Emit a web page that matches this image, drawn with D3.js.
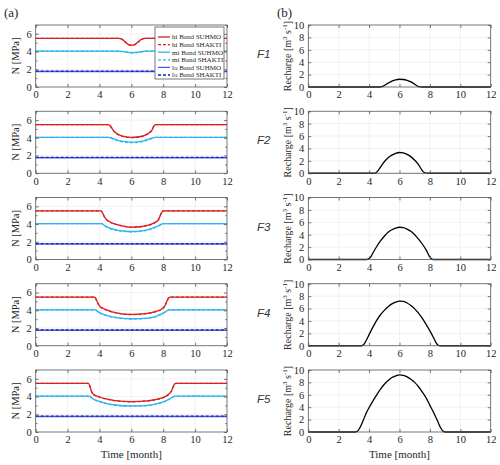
<!DOCTYPE html>
<html><head><meta charset="utf-8">
<script src="https://cdn.jsdelivr.net/npm/d3@7"></script>
<style>body{margin:0;background:#fff}svg{display:block}</style>
</head><body>
<svg id="chart" width="500" height="465"></svg>
<script>
// ---------- data ----------
const panelNames = ["F1","F2","F3","F4","F5"];
const xTicks = [0,2,4,6,8,10,12];
const nTicks = [0,2,4,6];
const nMinorTicks = [1,3,5,7];
const rTicks = [0,2,4,6,8,10];
const legendLabels = ["hi Band SUHMO","hi Band SHAKTI","mi Band SUHMO","mi Band SHAKTI","lo Band SUHMO","lo Band SHAKTI"];

// Effective pressure N [MPa], [time (month), value]
const hiSUHMO_F1 = [[0,5.5],[5.2,5.5],[5.4,5.42],[5.6,5.12],[5.8,4.82],[6.0,4.72],[6.2,4.78],[6.4,5.05],[6.6,5.35],[6.8,5.48],[7.0,5.5],[12,5.5]];
const hiSHAKTI_F1 = [[0,5.5],[5.2,5.5],[5.4,5.4],[5.6,5.1],[5.8,4.8],[6.0,4.7],[6.2,4.76],[6.4,5.03],[6.6,5.33],[6.8,5.47],[7.0,5.5],[12,5.5]];
const miSUHMO_F1 = [[0,4.05],[5.2,4.05],[5.5,4.0],[5.8,3.9],[6.0,3.87],[6.3,3.9],[6.6,3.98],[6.9,4.05],[12,4.05]];
const miSHAKTI_F1 = [[0,4.05],[5.2,4.05],[5.5,3.99],[5.8,3.88],[6.0,3.85],[6.3,3.88],[6.6,3.97],[6.9,4.05],[12,4.05]];

const hiSUHMO_F2 = [[0,5.5],[4.55,5.5],[4.7,5.3],[4.85,4.9],[5.0,4.6],[5.25,4.32],[5.5,4.17],[6.0,4.05],[6.5,4.12],[6.8,4.25],[7.1,4.55],[7.3,4.9],[7.4,5.3],[7.5,5.5],[12,5.5]];
const hiSHAKTI_F2 = [[0,5.5],[4.55,5.5],[4.7,5.28],[4.85,4.88],[5.0,4.58],[5.25,4.3],[5.5,4.15],[6.0,4.03],[6.5,4.1],[6.8,4.23],[7.1,4.53],[7.3,4.88],[7.4,5.28],[7.5,5.5],[12,5.5]];
const miSUHMO_F2 = [[0,4.05],[4.6,4.05],[4.8,3.95],[5.0,3.82],[5.25,3.68],[5.5,3.6],[6.0,3.52],[6.5,3.58],[6.8,3.68],[7.1,3.85],[7.3,3.96],[7.5,4.05],[12,4.05]];
const miSHAKTI_F2 = [[0,4.05],[4.6,4.05],[4.8,3.92],[5.0,3.77],[5.25,3.62],[5.5,3.53],[6.0,3.45],[6.5,3.51],[6.8,3.62],[7.1,3.8],[7.3,3.93],[7.5,4.05],[12,4.05]];

const hiSUHMO_F3 = [[0,5.5],[4.1,5.5],[4.2,5.25],[4.3,4.85],[4.45,4.5],[4.7,4.2],[5.0,4.0],[5.5,3.78],[6.0,3.65],[6.5,3.7],[7.0,3.85],[7.4,4.1],[7.7,4.5],[7.8,4.9],[7.9,5.3],[8.0,5.5],[12,5.5]];
const hiSHAKTI_F3 = [[0,5.5],[4.1,5.5],[4.2,5.23],[4.3,4.83],[4.45,4.48],[4.7,4.18],[5.0,3.98],[5.5,3.76],[6.0,3.63],[6.5,3.68],[7.0,3.83],[7.4,4.08],[7.7,4.48],[7.8,4.88],[7.9,5.28],[8.0,5.5],[12,5.5]];
const miSUHMO_F3 = [[0,4.05],[4.15,4.05],[4.3,3.85],[4.5,3.65],[5.0,3.35],[5.5,3.22],[6.0,3.16],[6.5,3.2],[7.0,3.35],[7.5,3.65],[7.8,3.9],[8.0,4.05],[12,4.05]];
const miSHAKTI_F3 = [[0,4.05],[4.15,4.05],[4.3,3.82],[4.5,3.61],[5.0,3.31],[5.5,3.18],[6.0,3.12],[6.5,3.16],[7.0,3.31],[7.5,3.61],[7.8,3.87],[8.0,4.05],[12,4.05]];

const hiSUHMO_F4 = [[0,5.5],[3.7,5.5],[3.8,5.2],[3.9,4.8],[4.0,4.5],[4.3,4.15],[4.6,3.95],[5.0,3.75],[6.0,3.54],[7.0,3.65],[7.5,3.85],[7.9,4.15],[8.1,4.5],[8.2,4.9],[8.3,5.3],[8.4,5.5],[12,5.5]];
const hiSHAKTI_F4 = [[0,5.5],[3.7,5.5],[3.8,5.18],[3.9,4.78],[4.0,4.48],[4.3,4.13],[4.6,3.93],[5.0,3.73],[6.0,3.52],[7.0,3.63],[7.5,3.83],[7.9,4.13],[8.1,4.48],[8.2,4.88],[8.3,5.28],[8.4,5.5],[12,5.5]];
const miSUHMO_F4 = [[0,4.05],[3.75,4.05],[3.9,3.85],[4.1,3.65],[4.5,3.4],[5.0,3.2],[6.0,3.05],[7.0,3.12],[7.5,3.3],[7.9,3.6],[8.2,3.9],[8.35,4.05],[12,4.05]];
const miSHAKTI_F4 = [[0,4.05],[3.75,4.05],[3.9,3.83],[4.1,3.62],[4.5,3.37],[5.0,3.17],[6.0,3.02],[7.0,3.09],[7.5,3.27],[7.9,3.57],[8.2,3.88],[8.35,4.05],[12,4.05]];

const hiSUHMO_F5 = [[0,5.5],[3.3,5.5],[3.4,5.2],[3.5,4.6],[3.6,4.3],[4.0,3.95],[4.5,3.7],[5.0,3.55],[6.0,3.43],[7.0,3.52],[7.5,3.65],[8.0,3.9],[8.3,4.2],[8.5,4.6],[8.6,5.0],[8.7,5.4],[8.8,5.5],[12,5.5]];
const hiSHAKTI_F5 = [[0,5.5],[3.3,5.5],[3.4,5.18],[3.5,4.58],[3.6,4.28],[4.0,3.93],[4.5,3.68],[5.0,3.53],[6.0,3.41],[7.0,3.5],[7.5,3.63],[8.0,3.88],[8.3,4.18],[8.5,4.58],[8.6,4.98],[8.7,5.38],[8.8,5.5],[12,5.5]];
const miSUHMO_F5 = [[0,4.05],[3.35,4.05],[3.5,3.9],[3.6,3.75],[4.0,3.45],[4.5,3.2],[5.0,3.05],[6.0,2.94],[7.0,3.0],[7.5,3.15],[8.0,3.4],[8.4,3.75],[8.6,3.95],[8.75,4.05],[12,4.05]];
const miSHAKTI_F5 = [[0,4.05],[3.35,4.05],[3.5,3.87],[3.6,3.72],[4.0,3.42],[4.5,3.17],[5.0,3.02],[6.0,2.91],[7.0,2.97],[7.5,3.12],[8.0,3.37],[8.4,3.72],[8.6,3.93],[8.75,4.05],[12,4.05]];

const loSUHMO = [[0,1.75],[12,1.75]];
const loSHAKTI = [[0,1.8],[12,1.8]];

// Recharge [m^3 s^-1]
const recharge_F1 = [[0,0],[4.7,0],[4.85,0.05],[5.0,0.25],[5.25,0.62],[5.5,0.95],[5.75,1.16],[6.0,1.25],[6.25,1.21],[6.5,1.07],[6.75,0.82],[7.0,0.45],[7.2,0.12],[7.35,0.02],[7.5,0],[12,0]];
const recharge_F2 = [[0,0],[4.3,0],[4.45,0.08],[4.6,0.45],[4.75,1.0],[5.0,1.85],[5.25,2.5],[5.5,2.92],[5.75,3.22],[6.0,3.35],[6.25,3.3],[6.5,3.05],[6.75,2.68],[7.0,2.1],[7.25,1.4],[7.45,0.6],[7.6,0.15],[7.75,0.02],[7.9,0],[12,0]];
const recharge_F3 = [[0,0],[3.85,0],[4.0,0.15],[4.15,0.6],[4.25,1.05],[4.5,2.1],[4.75,3.0],[5.0,3.75],[5.25,4.4],[5.5,4.8],[5.75,5.07],[6.0,5.2],[6.25,5.15],[6.5,4.9],[6.75,4.55],[7.0,4.0],[7.25,3.3],[7.5,2.5],[7.75,1.55],[7.95,0.6],[8.1,0.12],[8.25,0],[12,0]];
const recharge_F4 = [[0,0],[3.5,0],[3.65,0.2],[3.8,0.8],[4.0,1.8],[4.25,3.0],[4.5,4.1],[4.75,5.0],[5.0,5.7],[5.25,6.3],[5.5,6.75],[5.75,7.05],[6.0,7.2],[6.25,7.15],[6.5,6.9],[6.75,6.5],[7.0,5.95],[7.25,5.25],[7.5,4.4],[7.75,3.45],[8.0,2.4],[8.25,1.25],[8.4,0.5],[8.55,0.05],[8.7,0],[12,0]];
const recharge_F5 = [[0,0],[3.1,0],[3.25,0.15],[3.4,0.7],[3.6,1.8],[3.8,3.0],[4.0,3.95],[4.25,5.0],[4.5,6.0],[4.75,6.9],[5.0,7.7],[5.25,8.3],[5.5,8.8],[5.75,9.05],[6.0,9.2],[6.25,9.15],[6.5,8.9],[6.75,8.5],[7.0,8.0],[7.25,7.3],[7.5,6.45],[7.75,5.5],[8.0,4.3],[8.25,3.1],[8.5,1.8],[8.7,0.7],[8.85,0.15],[9.0,0],[12,0]];

// ---------- build tables ----------
const nPanels = [
  [hiSUHMO_F1,hiSHAKTI_F1,miSUHMO_F1,miSHAKTI_F1,loSUHMO,loSHAKTI],
  [hiSUHMO_F2,hiSHAKTI_F2,miSUHMO_F2,miSHAKTI_F2,loSUHMO,loSHAKTI],
  [hiSUHMO_F3,hiSHAKTI_F3,miSUHMO_F3,miSHAKTI_F3,loSUHMO,loSHAKTI],
  [hiSUHMO_F4,hiSHAKTI_F4,miSUHMO_F4,miSHAKTI_F4,loSUHMO,loSHAKTI],
  [hiSUHMO_F5,hiSHAKTI_F5,miSUHMO_F5,miSHAKTI_F5,loSUHMO,loSHAKTI]
];
const rPanels = [recharge_F1,recharge_F2,recharge_F3,recharge_F4,recharge_F5];

const seriesStyle = [
  {color:"#dc1e1e", dash:null},
  {color:"#dc1e1e", dash:"3,2"},
  {color:"#2db4f5", dash:null},
  {color:"#2db4f5", dash:"3,2"},
  {color:"#4a5cf0", dash:null},
  {color:"#1c1cb4", dash:"3,2"}
];

// ---------- drawing ----------
const svg = d3.select("#chart");
const serif = "'Liberation Serif', 'Times New Roman', serif";
const sans = "'Liberation Sans', Arial, sans-serif";
const axisColor = "#555";
const textColor = "#262626";

const leftRange = [35.7, 227];
const rightRange = [308.3, 490.7];
const panelTop0 = 25, panelStep = 86.25, panelH = 62;

const xL = d3.scaleLinear().domain([0,12]).range(leftRange);
const xR = d3.scaleLinear().domain([0,12]).range(rightRange);

function drawFrame(g, x, y, yTicks) {
  const [x0,x1] = x.range();
  const [y0,y1] = y.range();
  g.append("g").selectAll("line").data(xTicks.filter(d=>d>0&&d<12)).join("line")
    .attr("x1",d=>x(d)).attr("x2",d=>x(d)).attr("y1",y0).attr("y2",y1)
    .attr("stroke","#e8e8e8").attr("stroke-width",0.6);
  g.append("g").selectAll("line").data(yTicks.filter(d=>d>y.domain()[0]&&d<y.domain()[1])).join("line")
    .attr("x1",x0).attr("x2",x1).attr("y1",d=>y(d)).attr("y2",d=>y(d))
    .attr("stroke","#e8e8e8").attr("stroke-width",0.6);
}

function drawAxes(g, x, y, yTicks, yMinor) {
  const [x0,x1] = x.range();
  const [y0,y1] = y.range();
  const style = sel => {
    sel.select(".domain").remove();
    sel.selectAll(".tick line").attr("stroke",axisColor).attr("stroke-width",0.8);
    sel.selectAll(".tick text").attr("fill",textColor).attr("font-family",serif).attr("font-size",10.5);
  };
  g.append("g").attr("transform",`translate(0,${y0})`)
    .call(d3.axisBottom(x).tickValues(xTicks).tickSize(-3).tickPadding(4).tickFormat(d3.format("d"))).call(style);
  g.append("g").attr("transform",`translate(0,${y1})`)
    .call(d3.axisTop(x).tickValues(xTicks).tickSize(-3).tickFormat("")).call(style);
  g.append("g").attr("transform",`translate(${x0},0)`)
    .call(d3.axisLeft(y).tickValues(yTicks).tickSize(-3).tickPadding(4).tickFormat(d3.format("d"))).call(style);
  g.append("g").attr("transform",`translate(${x1},0)`)
    .call(d3.axisRight(y).tickValues(yTicks).tickSize(-3).tickFormat("")).call(style);
  if (yMinor) {
    g.append("g").attr("transform",`translate(${x0},0)`)
      .call(d3.axisLeft(y).tickValues(yMinor).tickSize(-1.8).tickFormat("")).call(style);
    g.append("g").attr("transform",`translate(${x1},0)`)
      .call(d3.axisRight(y).tickValues(yMinor).tickSize(-1.8).tickFormat("")).call(style);
  }
  g.append("rect").attr("x",x0).attr("y",y1).attr("width",x1-x0).attr("height",y0-y1)
    .attr("fill","none").attr("stroke",axisColor).attr("stroke-width",0.8);
}

panelNames.forEach((name,i) => {
  const top = panelTop0 + i*panelStep;
  const bottom = top + panelH;
  const yN = d3.scaleLinear().domain([0,7]).range([bottom, top]);
  const yR = d3.scaleLinear().domain([0,10]).range([bottom, top]);

  // ---- left panel ----
  const gl = svg.append("g");
  drawFrame(gl, xL, yN, nTicks);
  const lineN = d3.line().x(d=>xL(d[0])).y(d=>yN(d[1])).curve(d3.curveMonotoneX);
  nPanels[i].forEach((s,k) => {
    gl.append("path").datum(s).attr("d",lineN).attr("fill","none")
      .attr("stroke",seriesStyle[k].color).attr("stroke-width",1.3)
      .attr("stroke-dasharray",seriesStyle[k].dash);
  });
  drawAxes(gl, xL, yN, nTicks, nMinorTicks);
  gl.append("text").attr("transform",`translate(19,${(top+bottom)/2}) rotate(-90)`)
    .attr("text-anchor","middle").attr("font-family",serif).attr("font-size",10.5).attr("fill",textColor)
    .text("N [MPa]");

  // ---- right panel ----
  const gr = svg.append("g");
  drawFrame(gr, xR, yR, rTicks);
  const lineR = d3.line().x(d=>xR(d[0])).y(d=>yR(d[1])).curve(d3.curveMonotoneX);
  gr.append("path").datum(rPanels[i]).attr("d",lineR).attr("fill","none")
    .attr("stroke","#000").attr("stroke-width",1.3);
  drawAxes(gr, xR, yR, rTicks, null);
  const rl = gr.append("text").attr("transform",`translate(291,${(top+bottom)/2}) rotate(-90)`)
    .attr("text-anchor","middle").attr("font-family",serif).attr("font-size",10).attr("fill",textColor);
  rl.append("tspan").text("Recharge [m");
  rl.append("tspan").attr("dy",-4).attr("font-size",7).text("3");
  rl.append("tspan").attr("dy",4).text(" s");
  rl.append("tspan").attr("dy",-4).attr("font-size",7).text("-1");
  rl.append("tspan").attr("dy",4).text("]");

  svg.append("text").attr("x",257).attr("y",top+33).attr("font-family",sans).attr("font-style","italic")
    .attr("font-size",11.5).attr("fill","#333").text(name);

  // ---- legend in first panel ----
  if (i === 0) {
    const lg = svg.append("g");
    const lx0 = 155, ly0 = 27, lw = 69, lh = 52;
    lg.append("rect").attr("x",lx0).attr("y",ly0).attr("width",lw).attr("height",lh)
      .attr("fill","#fff").attr("stroke",axisColor).attr("stroke-width",0.8);
    legendLabels.forEach((lab,k) => {
      const yy = ly0 + 10 + k*7.6;
      lg.append("line").attr("x1",lx0+3).attr("x2",lx0+15).attr("y1",yy).attr("y2",yy)
        .attr("stroke",seriesStyle[k].color).attr("stroke-width",1.3)
        .attr("stroke-dasharray",seriesStyle[k].dash);
      lg.append("text").attr("x",lx0+17).attr("y",yy+2.3).attr("font-family",serif)
        .attr("font-size",7).attr("fill",textColor).text(lab);
    });
  }
});

// x labels
const lastBottom = panelTop0 + 4*panelStep + panelH;
svg.append("text").attr("x",(leftRange[0]+leftRange[1])/2).attr("y",lastBottom+26)
  .attr("text-anchor","middle").attr("font-family",serif).attr("font-size",11).attr("fill",textColor).text("Time [month]");
svg.append("text").attr("x",(rightRange[0]+rightRange[1])/2).attr("y",lastBottom+26)
  .attr("text-anchor","middle").attr("font-family",serif).attr("font-size",11).attr("fill",textColor).text("Time [month]");

// panel letters
svg.append("text").attr("x",4).attr("y",17).attr("font-family",serif).attr("font-size",13).attr("fill",textColor).text("(a)");
svg.append("text").attr("x",277).attr("y",17).attr("font-family",serif).attr("font-size",13).attr("fill",textColor).text("(b)");
</script>
</body></html>
